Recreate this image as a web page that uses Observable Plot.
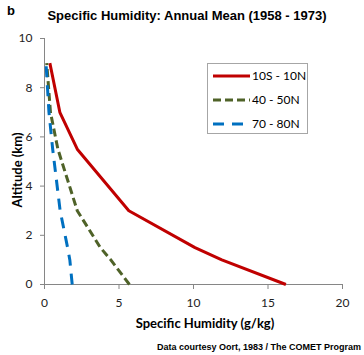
<!DOCTYPE html>
<html><head><meta charset="utf-8">
<script src="https://cdn.jsdelivr.net/npm/d3@7"></script>
<script src="https://cdn.jsdelivr.net/npm/@observablehq/plot@0.6"></script>
<style>
body{margin:0;background:#fff;}
#wrap{position:relative;width:364px;height:355px;font-family:"Liberation Sans",Arial,sans-serif;}
#wrap svg{position:absolute;left:0;top:0;}
.t{position:absolute;white-space:nowrap;color:#000;}
</style></head><body>
<div id="wrap"></div>
<script>
const altitude = [0, 1, 1.5, 3, 5.5, 7, 9];
const tropics = [16.2, 11.9, 10.1, 5.66, 2.2, 1.03, 0.36];
const midlat  = [5.7, 4.45, 3.75, 2.2, 0.9, 0.4, 0.15];
const polar   = [1.86, 1.7, 1.55, 1.05, 0.55, 0.3, 0.1];
const seriesNames = ["10S - 10N", "40 - 50N", "70 - 80N"];
const seriesColors = ["#C00000", "#4F6228", "#0070C0"];
const seriesDash = [null, "8,4", "11,8"];
const xTicks = [0, 5, 10, 15, 20];
const yTicks = [0, 2, 4, 6, 8, 10];

const seriesVals = [tropics, midlat, polar];
const rows = [];
seriesVals.forEach((vals, i) => vals.forEach((v, j) => rows.push({s: seriesNames[i], q: v, z: altitude[j]})));

const font = "Lato, 'Open Sans', sans-serif";
const chart = Plot.plot({
  width: 364, height: 355,
  marginLeft: 44, marginRight: 22, marginTop: 38, marginBottom: 71,
  style: {fontFamily: font, fontSize: "12px", color: "#000", background: "transparent"},
  x: {domain: [0, 20], ticks: xTicks, label: null},
  y: {domain: [0, 10], ticks: yTicks, label: null},
  marks: [
    Plot.axisX({ticks: xTicks, tickSize: 5, tickPadding: 9, stroke: "#868686", fill: "#222", label: null}),
    Plot.axisY({ticks: yTicks, tickSize: 4, tickPadding: 8, stroke: "#868686", fill: "#222", label: null}),
    Plot.ruleY([0], {stroke: "#868686"}),
    Plot.ruleX([0], {stroke: "#868686"}),
    ...seriesNames.map((n, i) => Plot.line(rows.filter(r => r.s === n), {
      x: "q", y: "z", stroke: seriesColors[i], strokeWidth: 3,
      strokeDasharray: seriesDash[i] || undefined, strokeLinecap: "butt"
    }))
  ]
});
const wrap = document.getElementById("wrap");
wrap.appendChild(chart);

function addText(txt, css) {
  const d = document.createElement("div");
  d.className = "t"; d.textContent = txt;
  Object.assign(d.style, css);
  wrap.appendChild(d);
  return d;
}
addText("b", {left: "7px", top: "3px", fontSize: "13px", fontWeight: "bold", fontFamily: "'Liberation Sans',Arial,sans-serif"});
addText("Specific Humidity: Annual Mean (1958 - 1973)", {left: "0", width: "374px", textAlign: "center", top: "8px", fontSize: "13px", fontWeight: "bold"});
addText("Specific Humidity (g/kg)", {left: "60px", width: "290px", textAlign: "center", top: "315px", fontSize: "13px", fontWeight: "bold", fontFamily: font});
addText("Data courtesy Oort, 1983 / The COMET Program", {right: "3px", top: "342px", fontSize: "9px", fontWeight: "bold"});
addText("Altitude (km)", {left: "17px", top: "170px", fontSize: "13px", fontWeight: "bold", fontFamily: font, transform: "translate(-50%,-50%) rotate(-90deg)"});

// legend
const leg = document.createElement("div");
Object.assign(leg.style, {position: "absolute", left: "207px", top: "63px", width: "101px", height: "71px", border: "1px solid #a6a6a6", boxSizing: "border-box", background: "#fff"});
wrap.appendChild(leg);
seriesNames.forEach((n, i) => {
  const y = 12 + i * 24;
  const svg = d3.create("svg").attr("width", 40).attr("height", 6)
    .style("position", "absolute").style("left", "5px").style("top", (y - 3) + "px");
  svg.append("line").attr("x1", 0).attr("x2", 37).attr("y1", 3).attr("y2", 3)
    .attr("stroke", seriesColors[i]).attr("stroke-width", 3)
    .attr("stroke-dasharray", seriesDash[i] || null);
  leg.appendChild(svg.node());
  const t = document.createElement("div");
  t.textContent = n;
  Object.assign(t.style, {position: "absolute", left: "44px", top: (y - 8) + "px", fontSize: "12px", fontFamily: font, whiteSpace: "nowrap", lineHeight: "16px"});
  leg.appendChild(t);
});
</script>
</body></html>
